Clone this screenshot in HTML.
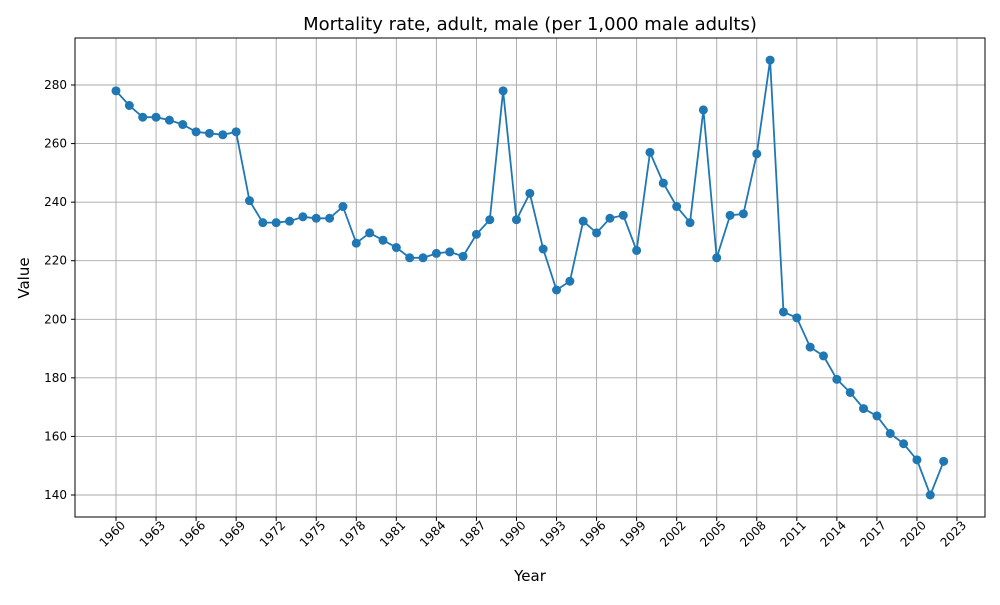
<!DOCTYPE html>
<html><head><meta charset="utf-8"><style>
body{margin:0;background:#fff;font-family:"Liberation Sans","DejaVu Sans",sans-serif}
svg text{font-family:"DejaVu Sans","Liberation Sans",sans-serif}
</style></head><body>
<svg id="chart" width="1000" height="600" viewBox="0 0 1000 600">
<rect x="0" y="0" width="1000" height="600" fill="#fff"/>
<g id="grid"></g>
<g id="ticks"></g>
<path id="line" fill="none" stroke="#1f77b4" stroke-width="1.8"/>
<g id="pts"></g>
<rect x="75" y="38" width="910" height="479" fill="none" stroke="#000" stroke-width="1"/>
<text x="530" y="30" text-anchor="middle" font-size="18">Mortality rate, adult, male (per 1,000 male adults)</text>
<text x="530" y="581" text-anchor="middle" font-size="15">Year</text>
<text x="29" y="278" text-anchor="middle" font-size="15" transform="rotate(-90 29 278)">Value</text>
</svg>
<script>
const years=[];for(let y=1960;y<=2022;y++)years.push(y);
const values=[278,273,269,269,268,266.5,264,263.5,263,264,240.5,233,233,233.5,235,234.5,234.5,238.5,226,229.5,227,224.5,221,221,222.5,223,221.5,229,234,278,234,243,224,210,213,233.5,229.5,234.5,235.5,223.5,257,246.5,238.5,233,271.5,221,235.5,236,256.5,288.5,202.5,200.5,190.5,187.5,179.5,175,169.5,167,161,157.5,152,140,151.5];
const xTicks=[1960,1963,1966,1969,1972,1975,1978,1981,1984,1987,1990,1993,1996,1999,2002,2005,2008,2011,2014,2017,2020,2023];
const yTicks=[140,160,180,200,220,240,260,280];
const NS="http://www.w3.org/2000/svg";
function xs(v){return 116+(v-1960)*(957-116)/63;}
function ys(v){return 495-(v-140)*(410/140);}
const grid=document.getElementById('grid'),ticks=document.getElementById('ticks'),pts=document.getElementById('pts');
function mk(t,a,p){const e=document.createElementNS(NS,t);for(const k in a)e.setAttribute(k,a[k]);p.appendChild(e);return e;}
xTicks.forEach(t=>{const x=xs(t);
const g=mk('line',{x1:x,x2:x,y1:38,y2:517,stroke:'#a8a8a8','stroke-width':0.9},grid);


mk('line',{x1:x,x2:x,y1:517,y2:521,stroke:'#000'},ticks);
const ax=x+10,ay=526;
const l=mk('text',{x:ax,y:ay,'font-size':12,'text-anchor':'end',transform:`rotate(-45 ${ax} ${ay})`},ticks);l.textContent=t;

});
yTicks.forEach(t=>{const y=ys(t);
const g=mk('line',{x1:75,x2:985,y1:y,y2:y,stroke:'#a8a8a8','stroke-width':0.9},grid);


mk('line',{x1:71,x2:75,y1:y,y2:y,stroke:'#000'},ticks);
const l=mk('text',{x:67,y:y+4,'font-size':12,'text-anchor':'end'},ticks);l.textContent=t;

});
document.getElementById('line').setAttribute('d',values.map((v,i)=>(i?'L':'M')+xs(years[i]).toFixed(1)+','+ys(v).toFixed(1)).join(''));
values.forEach((v,i)=>{const c=mk('circle',{cx:xs(years[i]),cy:ys(v),r:4.5,fill:'#1f77b4'},pts);

});
</script>
</body></html>
